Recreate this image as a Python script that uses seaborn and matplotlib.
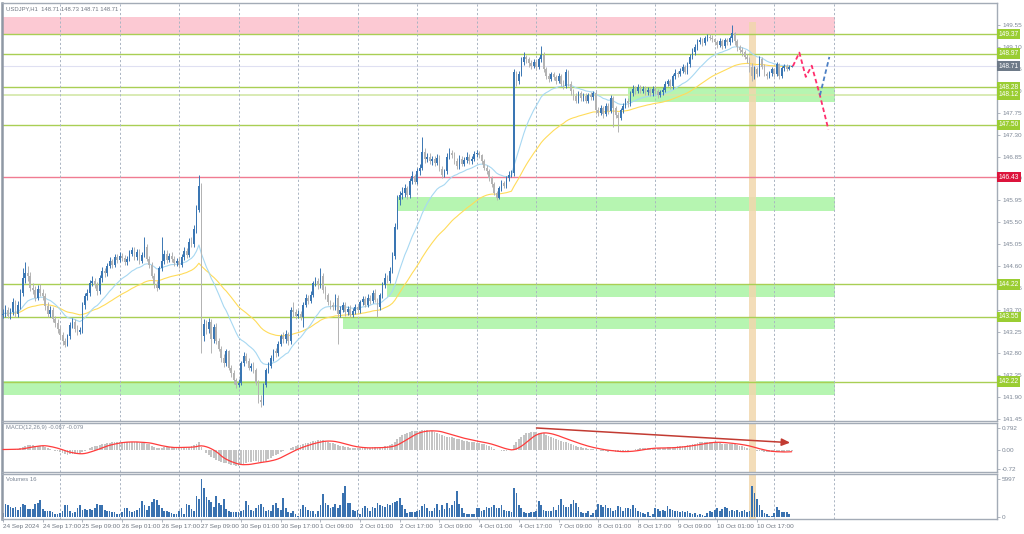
import numpy as np
import pandas as pd
import matplotlib
matplotlib.use("Agg")
import matplotlib.pyplot as plt
from matplotlib.patches import Rectangle
import seaborn as sns

# ---------------- data ----------------
first_open = 143.60
closes = [
 143.62, 143.70, 143.58, 143.66, 143.85, 143.62,
 143.80, 144.05, 144.35, 144.45, 144.40, 144.15,
 144.10, 143.95, 144.12, 144.05, 143.98, 143.78,
 143.62, 143.70, 143.50, 143.42, 143.30, 143.18,
 143.05, 142.98, 143.15, 143.38, 143.45, 143.30,
 143.25, 143.28, 143.80, 143.98, 144.05, 144.25,
 144.30, 144.20, 144.08, 144.35, 144.50, 144.45,
 144.60, 144.70, 144.62, 144.78, 144.72, 144.80,
 144.76, 144.68, 144.74, 144.85, 144.92, 144.78,
 144.88, 144.70, 144.82, 145.00, 144.75, 144.62,
 144.40, 144.22, 144.15, 144.55, 144.70, 144.85,
 144.72, 144.80, 144.74, 144.66, 144.70, 144.62,
 144.78, 144.90, 144.82, 145.10, 145.05, 145.35,
 145.75, 146.25, 143.15, 143.40, 143.30, 143.45,
 143.10, 143.35, 143.05, 142.90, 142.70, 142.60,
 142.85, 142.50, 142.40, 142.25, 142.15, 142.20,
 142.60, 142.75, 142.65, 142.50, 142.55, 142.45,
 142.20, 141.85, 141.80, 142.15, 142.45, 142.55,
 142.70, 142.85, 142.80, 143.00, 143.15, 143.10,
 143.20, 143.05, 143.70, 143.65, 143.58, 143.62,
 143.55, 143.80, 143.95, 143.88, 144.00, 144.25,
 144.30, 144.20, 144.40, 144.10, 144.00, 143.85,
 143.80, 143.76, 143.95, 143.62, 143.70, 143.80,
 143.65, 143.72, 143.60, 143.68, 143.75, 143.70,
 143.85, 143.92, 143.80, 143.95, 143.88, 144.05,
 143.90, 143.75, 144.00, 144.20, 144.35, 144.30,
 144.50, 144.80, 145.40, 145.95, 146.05, 146.10,
 146.20, 146.05, 146.35, 146.45, 146.32, 146.55,
 146.62, 146.95, 146.80, 146.85, 146.75, 146.80,
 146.72, 146.82, 146.60, 146.48, 146.55, 146.85,
 146.92, 146.88, 146.75, 146.65, 146.80, 146.70,
 146.78, 146.85, 146.75, 146.80, 146.90, 146.92,
 146.88, 146.75, 146.62, 146.55, 146.40, 146.28,
 146.10, 146.00, 146.20, 146.30, 146.25, 146.40,
 146.48, 146.52, 148.60, 148.40, 148.55, 148.80,
 148.90, 148.85, 148.78, 148.72, 148.80, 148.70,
 148.85, 148.95, 148.65, 148.50, 148.45, 148.55,
 148.48, 148.40, 148.50, 148.35, 148.30, 148.60,
 148.35, 148.20, 148.10, 148.00, 148.15, 148.05,
 148.10, 148.00, 148.12, 148.08, 148.15, 147.80,
 147.75, 147.85, 147.72, 147.90, 147.78, 148.05,
 147.85, 147.70, 147.65, 147.80, 147.90, 148.00,
 147.95, 148.15, 148.25, 148.20, 148.28, 148.20,
 148.25, 148.18, 148.22, 148.15, 148.25, 148.20,
 148.12, 148.18, 148.22, 148.35, 148.40, 148.30,
 148.50, 148.58, 148.55, 148.62, 148.70, 148.60,
 148.75, 148.90, 149.00, 149.10, 149.20, 149.25,
 149.18, 149.28, 149.32, 149.30, 149.26, 149.20,
 149.15, 149.22, 149.12, 149.25, 149.20, 149.28,
 149.40, 149.22, 149.10, 149.05, 149.00, 148.90,
 148.85, 148.70, 148.50, 148.65, 148.55, 148.85,
 148.70, 148.55, 148.50, 148.58, 148.65, 148.55,
 148.75, 148.50, 148.68, 148.72, 148.66, 148.70,
 148.71]

highs = [
 143.72, 143.80, 143.76, 143.74, 143.95, 143.90,
 143.88, 144.12, 144.55, 144.68, 144.60, 144.48,
 144.25, 144.18, 144.20, 144.22, 144.12, 144.05,
 143.85, 143.78, 143.76, 143.58, 143.50, 143.36,
 143.24, 143.12, 143.20, 143.45, 143.52, 143.50,
 143.38, 143.34, 143.85, 144.05, 144.12, 144.32,
 144.40, 144.36, 144.26, 144.42, 144.58, 144.56,
 144.66, 144.78, 144.74, 144.84, 144.85, 144.88,
 144.86, 144.82, 144.80, 144.92, 145.00, 144.98,
 144.95, 144.94, 144.88, 145.20, 145.06, 144.80,
 144.68, 144.46, 144.30, 144.60, 145.20, 144.92,
 144.92, 144.86, 144.88, 144.80, 144.76, 144.78,
 144.84, 144.98, 144.96, 145.18, 145.20, 145.45,
 145.85, 146.47, 146.30, 143.50, 143.48, 143.52,
 143.50, 143.40, 143.42, 143.12, 142.96, 142.78,
 142.90, 142.88, 142.56, 142.46, 142.30, 142.28,
 142.65, 142.82, 142.80, 142.70, 142.60, 142.62,
 142.50, 142.25, 141.95, 142.20, 142.50, 142.62,
 142.76, 142.90, 142.92, 143.05, 143.20, 143.25,
 143.28, 143.25, 143.75, 143.85, 143.72, 143.70,
 143.68, 143.85, 144.02, 144.00, 144.08, 144.30,
 144.38, 144.36, 144.55, 144.45, 144.18, 144.05,
 143.90, 143.86, 144.02, 144.00, 143.78, 143.86,
 143.86, 143.78, 143.80, 143.74, 143.82, 143.80,
 143.90, 143.98, 143.98, 144.02, 144.00, 144.10,
 144.12, 143.95, 144.05, 144.26, 144.45, 144.42,
 144.58, 144.88, 145.48, 146.05, 146.15, 146.22,
 146.28, 146.25, 146.40, 146.55, 146.50, 146.62,
 146.70, 147.25, 147.02, 146.92, 146.92, 146.86,
 146.86, 146.90, 146.88, 146.66, 146.60, 146.92,
 147.02, 146.98, 146.94, 146.82, 146.88, 146.86,
 146.84, 146.95, 146.90, 146.86, 146.96, 146.98,
 146.96, 146.90, 146.80, 146.68, 146.60, 146.45,
 146.32, 146.15, 146.25, 146.36, 146.35, 146.45,
 146.55, 146.58, 148.65, 148.62, 148.62, 148.90,
 149.00, 148.95, 148.90, 148.84, 148.86, 148.85,
 148.90, 149.12, 149.00, 148.70, 148.56, 148.60,
 148.60, 148.52, 148.56, 148.55, 148.42, 148.65,
 148.64, 148.40, 148.25, 148.16, 148.20, 148.20,
 148.15, 148.15, 148.16, 148.18, 148.20, 148.20,
 147.86, 147.92, 147.90, 147.95, 147.95, 148.12,
 148.10, 147.90, 147.76, 147.85, 147.95, 148.05,
 148.05, 148.20, 148.32, 148.30, 148.34, 148.32,
 148.30, 148.30, 148.28, 148.27, 148.30, 148.30,
 148.25, 148.22, 148.28, 148.40, 148.45, 148.44,
 148.55, 148.65, 148.62, 148.68, 148.76, 148.74,
 148.80, 148.96, 149.08, 149.16, 149.26, 149.32,
 149.30, 149.34, 149.37, 149.37, 149.35, 149.30,
 149.25, 149.28, 149.27, 149.30, 149.30, 149.34,
 149.55, 149.42, 149.26, 149.15, 149.10, 149.05,
 148.96, 148.90, 148.78, 148.72, 148.70, 148.92,
 148.90, 148.75, 148.60, 148.62, 148.70, 148.68,
 148.80, 148.78, 148.72, 148.76, 148.75, 148.73,
 148.73]

lows = [
 143.52, 143.56, 143.52, 143.50, 143.60, 143.55,
 143.55, 143.72, 143.98, 144.25, 144.30, 144.08,
 144.02, 143.88, 143.90, 143.98, 143.90, 143.70,
 143.55, 143.56, 143.44, 143.35, 143.22, 143.10,
 142.98, 142.93, 142.95, 143.10, 143.32, 143.25,
 143.18, 143.20, 143.22, 143.72, 143.90, 143.98,
 144.18, 144.15, 144.00, 144.02, 144.28, 144.38,
 144.40, 144.55, 144.56, 144.58, 144.66, 144.68,
 144.70, 144.62, 144.62, 144.70, 144.80, 144.72,
 144.72, 144.65, 144.66, 144.78, 144.70, 144.55,
 144.35, 144.15, 144.09, 144.12, 144.50, 144.64,
 144.66, 144.68, 144.68, 144.60, 144.60, 144.55,
 144.58, 144.72, 144.76, 144.78, 144.98, 145.00,
 145.28, 145.70, 142.81, 143.05, 143.20, 143.22,
 142.81, 143.02, 143.00, 142.85, 142.62, 142.52,
 142.55, 142.45, 142.32, 142.18, 142.08, 142.10,
 142.15, 142.55, 142.60, 142.45, 142.44, 142.40,
 142.15, 141.78, 141.70, 141.74, 142.10, 142.40,
 142.50, 142.65, 142.72, 142.75, 142.95, 143.02,
 143.02, 142.98, 143.00, 143.55, 143.50, 143.52,
 143.48, 143.34, 143.75, 143.82, 143.84, 143.96,
 144.18, 144.12, 144.15, 144.05, 143.92, 143.80,
 143.72, 143.70, 143.70, 143.00, 143.55, 143.65,
 143.58, 143.60, 143.55, 143.54, 143.62, 143.64,
 143.64, 143.80, 143.75, 143.75, 143.82, 143.84,
 143.85, 143.55, 143.70, 143.95, 144.15, 144.25,
 144.25, 144.45, 144.75, 145.35, 145.85, 145.98,
 146.02, 145.98, 146.00, 146.28, 146.28, 146.28,
 146.48, 146.58, 146.72, 146.74, 146.70, 146.68,
 146.66, 146.68, 146.55, 146.40, 146.42, 146.50,
 146.80, 146.82, 146.70, 146.60, 146.60, 146.65,
 146.65, 146.72, 146.70, 146.70, 146.76, 146.85,
 146.82, 146.70, 146.58, 146.50, 146.35, 146.22,
 146.05, 145.95, 145.97, 146.15, 146.20, 146.20,
 146.35, 146.42, 146.45, 148.30, 148.35, 148.50,
 148.74, 148.78, 148.70, 148.66, 148.68, 148.64,
 148.66, 148.80, 148.60, 148.44, 148.38, 148.40,
 148.42, 148.35, 148.36, 148.30, 148.24, 148.26,
 148.30, 148.12, 148.02, 147.95, 147.96, 148.00,
 148.00, 147.95, 147.96, 148.02, 148.02, 147.72,
 147.68, 147.70, 147.65, 147.68, 147.72, 147.74,
 147.45, 147.65, 147.35, 147.60, 147.75, 147.85,
 147.88, 147.90, 148.10, 148.14, 148.15, 148.15,
 148.15, 148.12, 148.12, 148.10, 148.10, 148.14,
 148.06, 148.08, 148.12, 148.18, 148.30, 148.25,
 148.25, 148.45, 148.48, 148.50, 148.58, 148.55,
 148.55, 148.70, 148.85, 148.95, 149.05, 149.16,
 149.12, 149.14, 149.22, 149.25, 149.20, 149.15,
 149.08, 149.10, 149.06, 149.08, 149.14, 149.15,
 149.20, 149.15, 149.02, 148.98, 148.92, 148.85,
 148.78, 148.60, 148.40, 148.45, 148.48, 148.50,
 148.65, 148.50, 148.45, 148.46, 148.50, 148.48,
 148.50, 148.45, 148.47, 148.62, 148.62, 148.63,
 148.69]

volumes = [
 700, 2190, 1950, 1700, 1460, 1700,
 1200, 1700, 2190, 1950,
 1300, 1300, 1300, 2190,
 2340, 2820, 1300,
 970, 1070, 970, 880, 490, 580,
 730, 970, 1950, 1950, 970,
 730, 830, 1460, 1950, 1200,
 1300, 1200, 1300, 1200, 1460, 2190, 2040,
 1950, 1200, 970, 970, 880, 830, 490, 580,
 830, 1560, 1460, 970, 830, 970,
 1200, 1460, 2530, 1950, 1200,
 1850, 2430, 2920, 2770, 1950, 1460, 970,
 970, 830, 730, 490, 580, 970, 1460,
 490, 2190, 2040, 1360, 1070,
 3400, 2920, 5997,
 4620, 3150, 2680, 2430, 1700,
 3400, 2340, 1950, 2920, 1300, 970, 880,
 880, 830, 880, 970,
 1200, 2530, 2040, 1200, 970, 1560,
 1950, 2190, 1700, 970, 1200,
 970, 1950, 2340, 1560, 1120, 3010,
 1460, 830, 730, 970, 580, 250, 1300,
 2040, 1700, 1200, 970, 1070, 490, 970,
 2040, 3650, 2340, 1950, 1460, 1700, 2190,
 1460, 1950, 3800, 4980, 2340,
 2340, 1200, 970, 1200, 490,
 1460, 1800, 1460, 970, 1700, 1560,
 2340, 1950, 1850, 1700, 2190, 1950, 2340,
 2430, 2530, 3010, 2040, 1300, 730,
 880, 830, 830, 970, 1200, 1850,
 2190, 1460, 970, 1070, 1560,
 2190, 1200, 1950, 1360, 2340,
 1460, 1950, 2530, 4140, 2190, 1460,
 730, 490, 580, 490, 580, 1460,
 1560, 970, 1200, 1700, 1560, 1700,
 1950, 1460,
 1560, 1950, 1200, 970, 970, 880,
 4620, 3900, 1950, 1460, 830, 730, 730, 880, 830,
 970, 2530, 2040, 1200, 1070,
 1070, 1070, 1700, 1200, 1950, 2920, 1950, 1700,
 1700, 2190, 2680, 2340, 1600, 830,
 730, 680, 970, 390, 730, 1200,
 2190, 1950, 1700, 2040, 1460, 1560,
 970, 1200, 1850, 1700, 970,
 1560, 1460, 1300, 1950, 1460, 970,
 880, 730, 490, 830, 150,
 490, 1460, 1360, 970, 1200,
 970, 1850, 1360, 1200, 970, 1070, 880,
 970, 830, 1070, 630, 490, 630, 340,
 490, 340, 150, 730, 970,
 880, 1200, 1460, 1070, 1300, 1700, 1460, 970, 1200,
 970, 1200, 830, 970, 1200, 880, 1000,
 5010, 3800, 2920, 1950, 1200, 730, 490, 150, 250, 730,
 1600, 1200, 830, 880, 880, 490, 16]

xtick_labels = ["24 Sep 2024", "24 Sep 17:00", "25 Sep 09:00", "26 Sep 01:00",
                "26 Sep 17:00", "27 Sep 09:00", "30 Sep 01:00", "30 Sep 17:00",
                "1 Oct 09:00", "2 Oct 01:00", "2 Oct 17:00", "3 Oct 09:00",
                "4 Oct 01:00", "4 Oct 17:00", "7 Oct 09:00", "8 Oct 01:00",
                "8 Oct 17:00", "9 Oct 09:00", "10 Oct 01:00", "10 Oct 17:00"]
xtick_bars = [0, 16, 32, 48, 64, 80, 96, 112, 128, 144, 160, 176, 192, 208,
              224, 240, 256, 272, 288, 304]
day_grid_bars = [23, 47, 71, 95, 119, 143, 167, 191, 215, 239, 263, 287, 311, 335]

price_ticks = [141.45, 141.90, 142.35, 142.80, 143.25, 143.70, 144.15, 144.60,
               145.05, 145.50, 145.95, 146.40, 146.85, 147.30, 147.75, 148.20,
               148.65, 149.10, 149.55]

level_values = [149.37, 148.97, 148.71, 148.28, 148.12, 147.50, 146.43, 144.22, 143.55, 142.22]
level_kinds = ["g", "g", "cur", "g", "g2", "g", "r", "g", "g", "g"]

zone_lo = [149.37, 147.98, 145.73, 143.96, 143.30, 141.94]
zone_hi = [149.72, 148.27, 146.02, 144.22, 143.56, 142.23]
zone_start = [-1.0, 252.0, 159.0, 155.0, 137.0, -1.0]
zone_end = [335.5, 335.5, 335.5, 335.5, 335.5, 335.5]
zone_kind = ["pink", "green", "green", "green", "green", "green"]

fc_red_bars = [318.5, 321.1, 323.7, 326.1, 329.4, 332.8]
fc_red_price = [148.71, 148.99, 148.49, 148.72, 148.11, 147.41]
fc_blue_bars = [329.4, 333.2]
fc_blue_price = [148.11, 148.90]

macd_arrow_bars = [214.0, 318.5]
macd_arrow_vals = [0.81, 0.25]

band_bars = [300.8, 303.6]
band_top_price = 149.62

header_text = "USDJPY,H1  148.71 148.73 148.71 148.71"
macd_text = "MACD(12,26,9) -0.087 -0.079"
vol_text = "Volumes 16"

# ---------------- derived series ----------------
n = len(closes)
idx = np.arange(n)
c = np.array(closes)
o = np.r_[first_open, c[:-1]]
h = np.maximum(np.array(highs[:n]), np.maximum(o, c))
l = np.minimum(np.array(lows[:n]), np.minimum(o, c))
v = np.array(volumes[:n], dtype=float)
s = pd.Series(c)
ema_fast = s.ewm(span=20, adjust=False).mean().values
ema_slow = s.ewm(span=50, adjust=False).mean().values
macd = (s.ewm(span=12, adjust=False).mean() - s.ewm(span=26, adjust=False).mean())
signal = macd.rolling(9, min_periods=1).mean().values
macd = macd.values

# ---------------- style ----------------
sns.set_style("white")
plt.rcParams["font.family"] = ["Liberation Sans", "DejaVu Sans"]
FS = 4.6
FS_LBL = 4.2
TXT = "#7d8796"
SPINE = "#a3abb6"
UP = "#3a76b3"
DOWN = "#b3b3b3"
LVL_G = "#a9cf54"
BOX_G = "#9acd32"

W, H = 1024, 534
fig = plt.figure(figsize=(W / 100, H / 100), dpi=100)
fig.patch.set_facecolor("white")

def frac(x0, y0, x1, y1):
    return [x0 / W, 1 - y1 / H, (x1 - x0) / W, (y1 - y0) / H]

ax = fig.add_axes(frac(2, 3, 997, 421))
axm = fig.add_axes(frac(2, 423, 997, 472), sharex=ax)
axv = fig.add_axes(frac(2, 474, 997, 519), sharex=ax)

XL = (-0.4, 400.8)
for a in (ax, axm, axv):
    a.set_facecolor("white")
    for sp in a.spines.values():
        sp.set_color(SPINE)
        sp.set_linewidth(1.0)
    a.spines["left"].set_linewidth(1.8)
    a.spines["left"].set_color("#8f98a4")
    a.yaxis.tick_right()
    a.tick_params(axis="y", which="both", direction="out", length=2.5, width=0.6,
                  color=SPINE, labelsize=FS, labelcolor=TXT, pad=1.2, left=False, right=True)
    a.tick_params(axis="x", which="both", bottom=False, labelbottom=False)
    for gb in day_grid_bars:
        a.axvline(gb, color="#aab4c2", lw=0.7, ls=(0, (2.2, 2.2)), zorder=1.1)
    if a is not ax:
        a.axvspan(band_bars[0], band_bars[1], color="#f1d7ad", alpha=0.85, lw=0, zorder=0.9)
ax.set_xlim(*XL)

# ---------------- main panel ----------------
ax.set_ylim(141.41, 150.01)
ax.set_yticks(price_ticks)
ax.set_yticklabels([f"{t:.2f}" for t in price_ticks])

for lo, hi, x0, x1, kind in zip(zone_lo, zone_hi, zone_start, zone_end, zone_kind):
    col = "#fcc9d3" if kind == "pink" else "#b6f5b1"
    ax.add_patch(Rectangle((x0, lo), x1 - x0, hi - lo, facecolor=col, edgecolor="none", zorder=0.5))

ax.add_patch(Rectangle((band_bars[0], ax.get_ylim()[0]), band_bars[1] - band_bars[0],
                       band_top_price - ax.get_ylim()[0], facecolor="#f1d7ad",
                       edgecolor="none", alpha=0.85, zorder=0.9))

for val, kind in zip(level_values, level_kinds):
    if kind == "cur":
        ax.axhline(val, color="#dfe0f2", lw=0.8, zorder=1.0)
        box = "#6e7a88"
    elif kind == "r":
        ax.axhline(val, color="#f07c92", lw=1.0, zorder=1.0)
        box = "#dc143c"
    elif kind == "g2":
        ax.axhline(val, color="#d3e8a8", lw=1.2, zorder=1.0)
        box = BOX_G
    else:
        ax.axhline(val, color=LVL_G, lw=1.0, zorder=1.0)
        box = BOX_G
    ax.text(1.0015, val, f"{val:.2f}", transform=ax.get_yaxis_transform(),
            ha="left", va="center", fontsize=FS + 0.2, color="white", zorder=20, clip_on=False,
            bbox=dict(boxstyle="square,pad=0.25", fc=box, ec="none"))

sns.lineplot(x=idx, y=ema_slow, ax=ax, color="#ffdc5a", lw=0.8, zorder=2)
sns.lineplot(x=idx, y=ema_fast, ax=ax, color="#a7d8f2", lw=0.8, zorder=2.1)

cols = np.where(c >= o, UP, DOWN)
ax.vlines(idx, l, h, colors=cols, lw=0.7, zorder=3)
body = np.where(np.abs(c - o) < 0.012, 0.012, c - o)
ax.bar(idx, body, bottom=o, width=0.66, color=cols, lw=0, zorder=3.1)

ax.plot(fc_red_bars, fc_red_price, color="#ff2f6e", lw=1.3, ls=(0, (2.5, 1.6)), zorder=4)
ax.plot(fc_blue_bars, fc_blue_price, color="#4d80c4", lw=1.3, ls=(0, (2.5, 1.6)), zorder=4)

ax.text(0.004, 0.993, header_text, transform=ax.transAxes, ha="left", va="top",
        fontsize=FS_LBL, color="#6f7782", zorder=20)

# ---------------- MACD panel ----------------
axm.set_ylim(-0.84, 0.99)
axm.set_yticks([-0.72, 0.0, 0.792])
axm.set_yticklabels(["-0.72", "0.00", "0.792"])
axm.bar(idx, macd, width=0.72, color="#c4c4c4", lw=0, zorder=2)
sns.lineplot(x=idx, y=signal, ax=axm, color="#ff3c3c", lw=0.9, zorder=3)
axm.annotate("", xy=(macd_arrow_bars[1], macd_arrow_vals[1]),
             xytext=(macd_arrow_bars[0], macd_arrow_vals[0]),
             arrowprops=dict(arrowstyle="-|>,head_length=0.5,head_width=0.22",
                             color="#c23b32", lw=1.1), zorder=5)
axm.text(0.004, 0.95, macd_text, transform=axm.transAxes, ha="left", va="top",
         fontsize=FS_LBL, color="#7d8796")

# ---------------- Volume panel ----------------
axv.set_ylim(-250, 6863)
axv.set_yticks([0, 5997])
axv.set_yticklabels(["0", "5997"])
axv.bar(idx, v, width=0.68, color="#3a72b0", lw=0, zorder=2)
axv.text(0.004, 0.93, vol_text, transform=axv.transAxes, ha="left", va="top",
         fontsize=FS_LBL, color="#7d8796")
axv.tick_params(axis="x", bottom=True, labelbottom=True, length=2, width=0.6,
                color=SPINE, labelsize=FS, labelcolor="#6f7782", pad=1.5)
axv.set_xticks(xtick_bars)
axv.set_xticklabels(xtick_labels, ha="left")
plt.setp(ax.get_xticklabels(), visible=False)
plt.setp(axm.get_xticklabels(), visible=False)
for a in (ax, axm, axv):
    a.set_xlabel("")
    a.set_ylabel("")
    a.grid(False)
axv.set_xlim(*XL)

fig.savefig("out.png", dpi=100, facecolor="white")
